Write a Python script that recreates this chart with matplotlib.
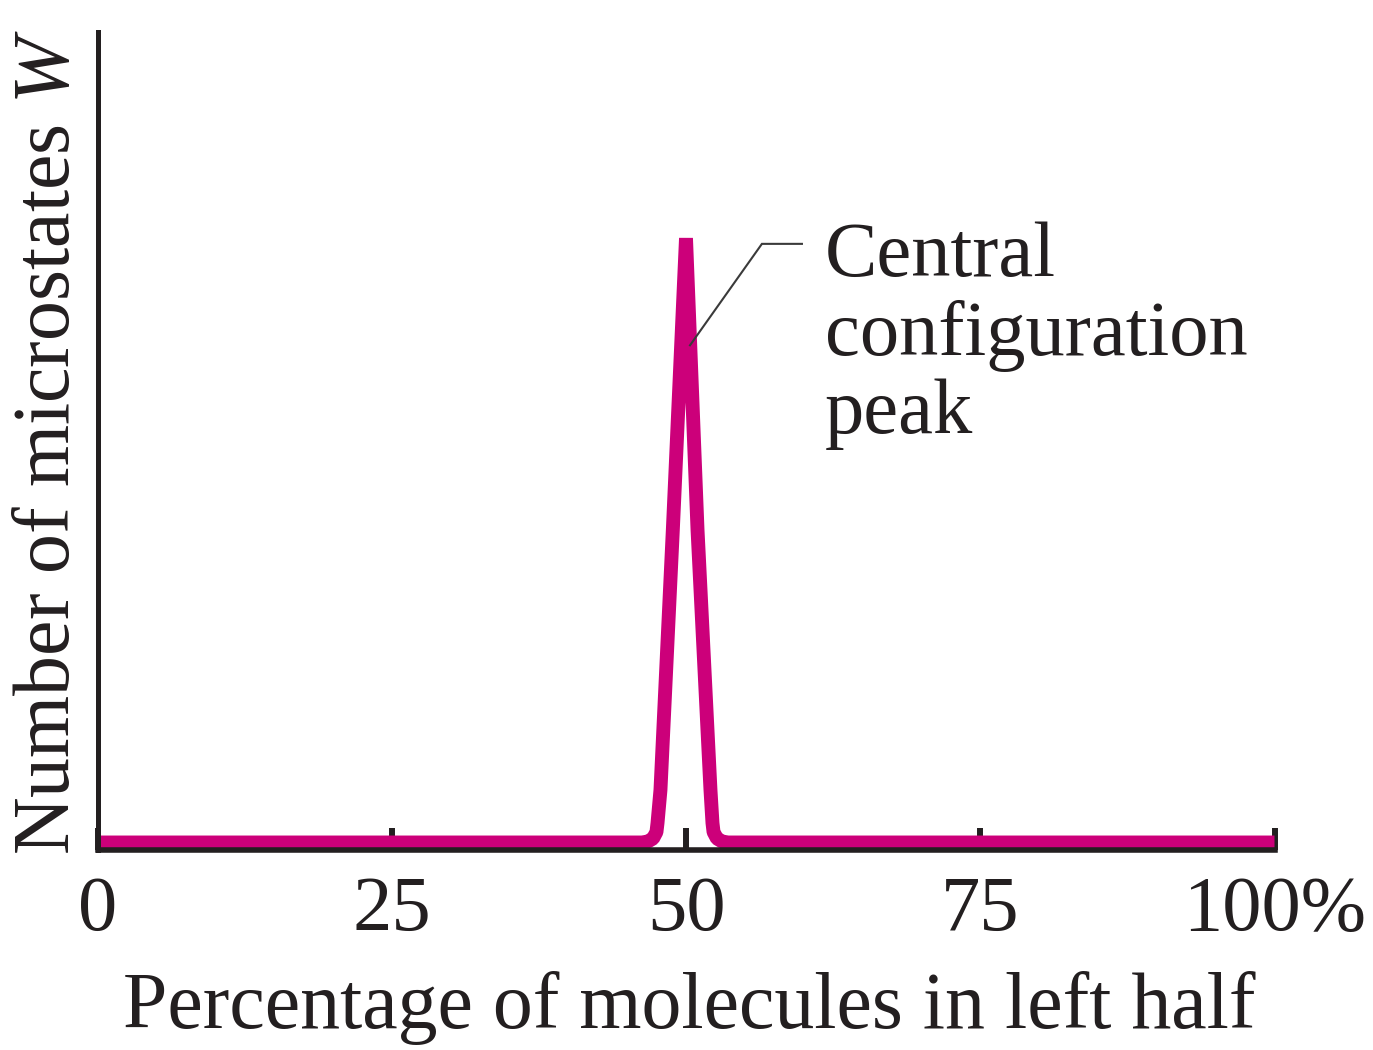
import matplotlib
matplotlib.use("Agg")
import matplotlib.pyplot as plt


# Values
# (share of the y range, axis top = 1.0)
percentage_left = [
    0.0, 46.26, 46.77, 47.20, 47.49, 47.58, 47.83, 48.88, 50.0,
    50.98, 52.08, 52.25, 52.34, 52.63, 53.06, 53.57, 100.0]
nr_microstates = [
    0.0092, 0.0092, 0.0104, 0.0141, 0.022, 0.033, 0.0733, 0.391, 0.748,
    0.391, 0.0733, 0.033, 0.022, 0.0141, 0.0104, 0.0092, 0.0092]

tick_positions = [0, 25, 50, 75, 100]
tick_labels = ["0", "25", "50", "75", "100%"]

peak_label = "Central\nconfiguration\npeak"
x_label = "Percentage of molecules in left half"
y_label = "Number of microstates $W$"

curve_color = "#cc007a"
ink_color = "#231f20"
font_size = 56.5

plt.rcParams["font.family"] = ["Liberation Serif", "DejaVu Serif"]
plt.rcParams["mathtext.fontset"] = "custom"
plt.rcParams["mathtext.rm"] = "Liberation Serif"
plt.rcParams["mathtext.it"] = "Liberation Serif:italic"

width_px, height_px = 1373, 1050
figure = plt.figure(figsize=(width_px / 100, height_px / 100), dpi=100)

# Axes box in pixels: x from 97.5 to 1274.5, y from 850 (bottom) to 32 (top)
axis = figure.add_axes([
    97.5 / width_px, (height_px - 850) / height_px,
    1177 / width_px, 818 / height_px])

axis.plot(
    percentage_left, nr_microstates, color=curve_color,
    linewidth=10.0, solid_joinstyle="bevel", solid_capstyle="butt",
    zorder=2)

axis.set_xlim(0, 100)
axis.set_ylim(0, 1)

for side in ["top", "right"]:
    axis.spines[side].set_visible(False)
axis.spines["bottom"].set_linewidth(4.0)
axis.spines["left"].set_linewidth(3.6)
for side in ["bottom", "left"]:
    axis.spines[side].set_color(ink_color)

axis.set_xticks(tick_positions)
axis.set_xticklabels(tick_labels)
axis.tick_params(
    axis="x", direction="in", length=16, width=4.3, color=ink_color,
    pad=18, labelsize=font_size, labelcolor=ink_color)
axis.set_yticks([])

# Leader line from the peak to its label
axis.plot(
    [50.34, 56.45, 59.85], [0.617, 0.741, 0.741],
    color="#3a3a3a", linewidth=1.5, solid_joinstyle="miter", zorder=3)
# baseline alignment of a multi-line text goes to its last line
axis.text(
    61.8, 0.510, peak_label, ha="left", va="baseline",
    fontsize=font_size, color=ink_color, linespacing=1.12)

figure.text(
    689 / width_px, (height_px - 1028) / height_px, x_label,
    ha="center", va="baseline", fontsize=57.5, color=ink_color)
figure.text(
    69 / width_px, (height_px - 442) / height_px, y_label,
    rotation=90, rotation_mode="anchor", ha="center", va="baseline",
    fontsize=57.5, color=ink_color)

plt.savefig("out.png", dpi=100)
